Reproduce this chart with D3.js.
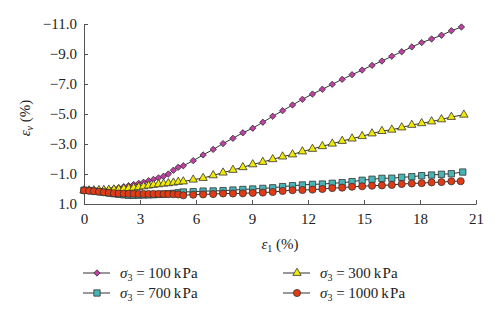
<!DOCTYPE html>
<html>
<head>
<meta charset="utf-8">
<script src="https://cdn.jsdelivr.net/npm/d3@7"></script>
<style>
  html, body { margin: 0; padding: 0; background: #ffffff; }
  #chart { width: 500px; height: 321px; }
  #chart text { font-family: 'Liberation Serif', 'Times New Roman', serif; fill: #222222; }
  #chart .axis .tick text { font-size: 15px; }
  #chart .axis path, #chart .axis line { stroke: #555555; stroke-width: 1px; }
  #chart .series-line { fill: none; stroke: #333333; stroke-width: 1px; }
  #chart .marker { stroke: #333333; stroke-width: 0.8px; }
</style>
</head>
<body>
<div id="chart"></div>
<script>
// ---- data ----
const xTicks = [0, 3, 6, 9, 12, 15, 18, 21];
const yTicks = [1, -1, -3, -5, -7, -9, -11];

// [axial strain ε1 %, volumetric strain εv %]
const s100 = [
  [0,0.10],[0.27,0.10],[0.53,0.08],[0.80,0.06],[1.06,0.04],[1.33,0.02],[1.60,-0.03],
  [1.86,-0.08],[2.13,-0.15],[2.39,-0.22],[2.66,-0.30],[2.93,-0.38],[3.19,-0.45],
  [3.46,-0.55],[3.72,-0.64],[3.99,-0.74],[4.26,-0.85],[4.52,-1.00],[4.79,-1.25],
  [5.05,-1.45],[5.32,-1.55],[5.85,-1.89],[6.38,-2.27],[6.92,-2.64],[7.45,-3.03],
  [7.98,-3.38],[8.51,-3.75],[9.04,-4.05],[9.58,-4.45],[10.11,-4.85],[10.64,-5.22],
  [11.17,-5.60],[11.70,-5.98],[12.24,-6.33],[12.77,-6.65],[13.30,-6.98],[13.83,-7.31],
  [14.36,-7.62],[14.90,-7.93],[15.43,-8.24],[15.96,-8.53],[16.49,-8.85],[17.02,-9.15],
  [17.56,-9.47],[18.09,-9.76],[18.62,-10.00],[19.15,-10.25],[19.68,-10.55],[20.22,-10.80]
];
const s300 = [
  [0,0.10],[0.27,0.10],[0.53,0.09],[0.80,0.08],[1.06,0.07],[1.33,0.06],[1.60,0.04],
  [1.86,0.02],[2.13,-0.02],[2.39,-0.05],[2.66,-0.08],[2.93,-0.12],[3.19,-0.17],
  [3.46,-0.22],[3.72,-0.27],[3.99,-0.31],[4.26,-0.35],[4.52,-0.38],[4.79,-0.42],
  [5.05,-0.47],[5.32,-0.50],[5.85,-0.62],[6.38,-0.73],[6.92,-0.91],[7.45,-1.09],
  [7.98,-1.27],[8.51,-1.45],[9.04,-1.64],[9.58,-1.80],[10.11,-1.98],[10.64,-2.16],
  [11.17,-2.30],[11.70,-2.50],[12.24,-2.67],[12.77,-2.85],[13.30,-3.02],[13.83,-3.20],
  [14.36,-3.36],[14.90,-3.52],[15.43,-3.70],[15.96,-3.86],[16.49,-3.95],[17.02,-4.10],
  [17.56,-4.27],[18.09,-4.38],[18.62,-4.50],[19.15,-4.64],[19.68,-4.80],[20.35,-4.95]
];
const s700 = [
  [0,0.08],[0.27,0.10],[0.53,0.14],[0.80,0.18],[1.06,0.22],[1.33,0.27],[1.60,0.31],
  [1.86,0.35],[2.13,0.39],[2.39,0.42],[2.66,0.42],[2.93,0.41],[3.19,0.40],
  [3.46,0.39],[3.72,0.38],[3.99,0.36],[4.26,0.34],[4.52,0.32],[4.79,0.29],
  [5.05,0.25],[5.32,0.20],[5.85,0.18],[6.38,0.14],[6.92,0.13],[7.45,0.11],
  [7.98,0.07],[8.51,0.03],[9.04,0.00],[9.58,-0.04],[10.11,-0.08],[10.64,-0.16],
  [11.17,-0.22],[11.70,-0.27],[12.24,-0.31],[12.77,-0.33],[13.30,-0.38],[13.83,-0.42],
  [14.36,-0.49],[14.90,-0.58],[15.43,-0.65],[15.96,-0.71],[16.49,-0.72],[17.02,-0.78],
  [17.56,-0.82],[18.09,-0.89],[18.62,-0.93],[19.15,-0.98],[19.68,-1.02],[20.29,-1.13]
];
const s1000 = [
  [0,0.10],[0.27,0.12],[0.53,0.15],[0.80,0.18],[1.06,0.22],[1.33,0.25],[1.60,0.28],
  [1.86,0.30],[2.13,0.31],[2.39,0.32],[2.66,0.32],[2.93,0.33],[3.19,0.33],
  [3.46,0.33],[3.72,0.33],[3.99,0.33],[4.26,0.34],[4.52,0.34],[4.79,0.35],
  [5.05,0.36],[5.32,0.42],[5.85,0.38],[6.38,0.36],[6.92,0.34],[7.45,0.30],
  [7.98,0.30],[8.51,0.29],[9.04,0.26],[9.58,0.24],[10.11,0.20],[10.64,0.13],
  [11.17,0.08],[11.70,0.07],[12.24,0.04],[12.77,0.00],[13.30,-0.06],[13.83,-0.09],
  [14.36,-0.15],[14.90,-0.18],[15.43,-0.22],[15.96,-0.24],[16.49,-0.27],[17.02,-0.33],
  [17.56,-0.37],[18.09,-0.39],[18.62,-0.44],[19.15,-0.46],[19.68,-0.51],[20.18,-0.52]
];

// ---- series styling ----
const series = [
  { name: "100",  data: s100,  shape: "diamond",  fill: "#c23fa6", lx: 83,  ly: 273 },
  { name: "300",  data: s300,  shape: "triangle", fill: "#f2ea00", lx: 283, ly: 273 },
  { name: "700",  data: s700,  shape: "square",   fill: "#48b4b4", lx: 83,  ly: 293 },
  { name: "1000", data: s1000, shape: "circle",   fill: "#e23a14", lx: 283, ly: 293 }
];

const symbols = {
  diamond:  { type: d3.symbolSquare,   size: 20, rotate: 45 },
  triangle: { type: d3.symbolTriangle, size: 30, rotate: 0 },
  square:   { type: d3.symbolSquare,   size: 40, rotate: 0 },
  circle:   { type: d3.symbolCircle,   size: 40, rotate: 0 }
};

// ---- layout ----
const W = 500, H = 321;
const plot = { left: 84, right: 476, top: 24, bottom: 204 };

const svg = d3.select("#chart").append("svg")
  .attr("width", W).attr("height", H)
  .attr("viewBox", `0 0 ${W} ${H}`);

const x = d3.scaleLinear().domain([0, 21]).range([plot.left, plot.right]);
const y = d3.scaleLinear().domain([1, -11]).range([plot.bottom, plot.top]);

// axes (ticks point inward)
svg.append("g")
  .attr("class", "axis axis-x")
  .attr("transform", `translate(0,${plot.bottom})`)
  .call(d3.axisBottom(x).tickValues(xTicks).tickFormat(d3.format("d"))
    .tickSizeInner(-4).tickSizeOuter(0).tickPadding(9));

svg.append("g")
  .attr("class", "axis axis-y")
  .attr("transform", `translate(${plot.left},0)`)
  .call(d3.axisLeft(y).tickValues(yTicks).tickFormat(d3.format(".1f"))
    .tickSizeInner(-4).tickSizeOuter(0).tickPadding(7));

// axis titles
const xt = svg.append("text")
  .attr("x", (plot.left + plot.right) / 2).attr("y", 249)
  .attr("text-anchor", "middle").style("font-size", "15px");
xt.append("tspan").style("font-style", "italic").text("ε");
xt.append("tspan").attr("dy", 3).style("font-size", "10px").text("1");
xt.append("tspan").attr("dy", -3).text(" (%)");

const yt = svg.append("text")
  .attr("transform", `translate(30,${(plot.top + plot.bottom) / 2 + 4}) rotate(-90)`)
  .attr("text-anchor", "middle").style("font-size", "15px");
yt.append("tspan").style("font-style", "italic").text("ε");
yt.append("tspan").attr("dy", 3).style("font-size", "10px").style("font-style", "italic").text("v");
yt.append("tspan").attr("dy", -3).text(" (%)");

// lines + markers
const line = d3.line().x(d => x(d[0])).y(d => y(d[1]));

function symbolPath(shape) {
  const s = symbols[shape];
  return d3.symbol().type(s.type).size(s.size)();
}

series.forEach(s => {
  const g = svg.append("g").attr("class", "series s" + s.name);
  g.append("path").datum(s.data).attr("class", "series-line").attr("d", line);
  g.selectAll("path.marker")
    .data(s.data)
    .join("path")
      .attr("class", "marker")
      .attr("d", symbolPath(s.shape))
      .attr("fill", s.fill)
      .attr("transform", d => `translate(${x(d[0])},${y(d[1])}) rotate(${symbols[s.shape].rotate})`);
});

// legend
const legend = svg.append("g").attr("class", "legend");
series.forEach(s => {
  const g = legend.append("g").attr("transform", `translate(${s.lx},${s.ly})`);
  g.append("line").attr("x1", 0).attr("x2", 27).attr("y1", 0).attr("y2", 0)
    .attr("stroke", "#333333").attr("stroke-width", 1);
  g.append("path").attr("class", "marker")
    .attr("d", symbolPath(s.shape)).attr("fill", s.fill)
    .attr("transform", `translate(14,0) rotate(${symbols[s.shape].rotate})`);
  const t = g.append("text").attr("x", 37).attr("y", 5).style("font-size", "15px");
  t.append("tspan").style("font-style", "italic").text("σ");
  t.append("tspan").attr("dy", 3).style("font-size", "10px").text("3");
  t.append("tspan").attr("dy", -3).text(" = " + s.name + "\u2009k\u200APa");
});
</script>
</body>
</html>
